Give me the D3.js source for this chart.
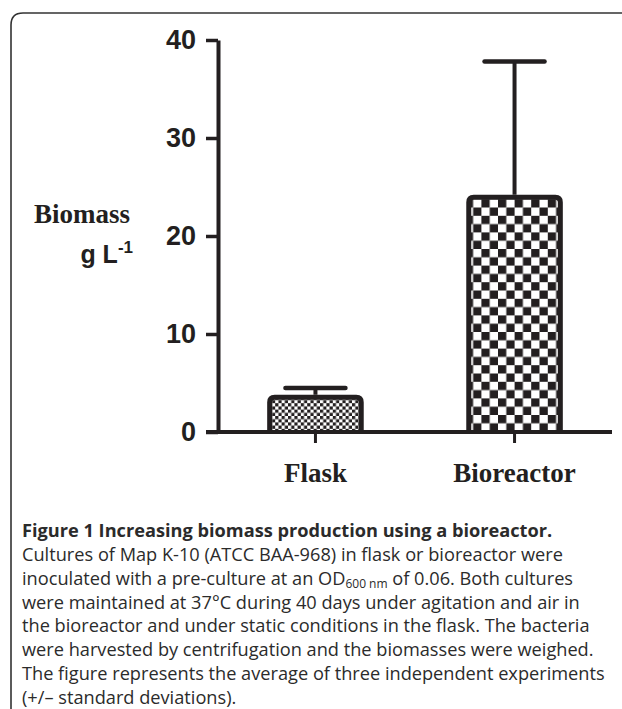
<!DOCTYPE html>
<html>
<head>
<meta charset="utf-8">
<script src="https://cdn.jsdelivr.net/npm/d3@7"></script>
<style>
  html, body { margin: 0; padding: 0; background: #fff; }
  svg { display: block; }
</style>
</head>
<body>
<svg id="chart" width="622" height="709"></svg>
<script>
// values
const categories = ["Flask", "Bioreactor"];
const means = [3.8, 24.2];
const upperErr = [4.5, 37.8];
const yTicks = [0, 10, 20, 30, 40];
const patterns = ["fine", "coarse"];
const captionTitle = "Figure 1 Increasing biomass production using a bioreactor.";
const captionLines = [
  "Cultures of Map K-10 (ATCC BAA-968) in flask or bioreactor were",
  "inoculated with a pre-culture at an OD|600 nm| of 0.06. Both cultures",
  "were maintained at 37°C during 40 days under agitation and air in",
  "the bioreactor and under static conditions in the flask. The bacteria",
  "were harvested by centrifugation and the biomasses were weighed.",
  "The figure represents the average of three independent experiments",
  "(+/– standard deviations)."
];

const ink = "#231f20";
const svg = d3.select("#chart");

// frame: top + left rule with rounded corner
svg.append("path")
  .attr("d", "M11,709 L11,25 Q11,13 23,13 L622,13")
  .attr("fill", "none").attr("stroke", "#333").attr("stroke-width", 1.6);

// checker patterns
const defs = svg.append("defs");
function checker(id, c) {
  const p = defs.append("pattern").attr("id", id)
    .attr("patternUnits", "userSpaceOnUse")
    .attr("width", c * 2).attr("height", c * 2);
  p.append("rect").attr("width", c * 2).attr("height", c * 2).attr("fill", "#fff");
  p.append("rect").attr("width", c).attr("height", c).attr("fill", ink);
  p.append("rect").attr("x", c).attr("y", c).attr("width", c).attr("height", c).attr("fill", ink);
}
checker("fine", 3.2);
checker("coarse", 8.3);

const x = d3.scaleBand().domain(categories).range([218, 612])
  .paddingInner(0.515).paddingOuter(0.247);
const y = d3.scaleLinear().domain([0, 40]).range([432, 40]);

const g = svg.append("g");

// bars with rounded top corners
const sw = 5, r = 5;
g.selectAll("path.bar").data(categories).enter().append("path")
  .attr("class", "bar")
  .attr("d", (d, i) => {
    const x0 = x(d) + sw / 2, x1 = x(d) + x.bandwidth() - sw / 2;
    const yt = y(means[i]) + sw / 2, yb = y(0);
    return `M${x0},${yb} L${x0},${yt + r} Q${x0},${yt} ${x0 + r},${yt} L${x1 - r},${yt} Q${x1},${yt} ${x1},${yt + r} L${x1},${yb}`;
  })
  .attr("fill", (d, i) => `url(#${patterns[i]})`)
  .attr("stroke", ink).attr("stroke-width", sw).attr("stroke-linejoin", "round");

// error bars (upper only)
const capW = 60;
const eb = g.selectAll("g.err").data(categories).enter().append("g").attr("class", "err");
eb.append("line")
  .attr("x1", d => x(d) + x.bandwidth() / 2).attr("x2", d => x(d) + x.bandwidth() / 2)
  .attr("y1", (d, i) => y(means[i])).attr("y2", (d, i) => y(upperErr[i]))
  .attr("stroke", ink).attr("stroke-width", 4);
eb.append("line")
  .attr("x1", d => x(d) + x.bandwidth() / 2 - capW / 2).attr("x2", d => x(d) + x.bandwidth() / 2 + capW / 2)
  .attr("y1", (d, i) => y(upperErr[i])).attr("y2", (d, i) => y(upperErr[i]))
  .attr("stroke", ink).attr("stroke-width", 4.5).attr("stroke-linecap", "round");

// y axis
const yAxis = g.append("g").attr("transform", "translate(218,0)")
  .call(d3.axisLeft(y).tickValues(yTicks).tickSize(12).tickPadding(10).tickSizeOuter(0));
yAxis.select(".domain").attr("stroke", ink).attr("stroke-width", 4);
yAxis.selectAll(".tick line").attr("stroke", ink).attr("stroke-width", 3.5);
yAxis.selectAll(".tick text")
  .attr("fill", ink)
  .style("font-family", "'Liberation Sans', Arial, sans-serif")
  .style("font-weight", "bold").style("font-size", "27px");

// x axis
const xAxis = g.append("g").attr("transform", "translate(0,432)")
  .call(d3.axisBottom(x).tickSize(11).tickPadding(20).tickSizeOuter(0));
xAxis.select(".domain").attr("d", "M206,0H612").attr("stroke", ink).attr("stroke-width", 4);
xAxis.selectAll(".tick line").attr("stroke", ink).attr("stroke-width", 3);
xAxis.selectAll(".tick text")
  .attr("fill", ink)
  .style("font-family", "'Liberation Serif', 'Times New Roman', serif")
  .style("font-weight", "bold").style("font-size", "27px");

// y axis title
g.append("text").attr("x", 130).attr("y", 223).attr("text-anchor", "end")
  .attr("fill", ink)
  .style("font-family", "'Liberation Serif', 'Times New Roman', serif")
  .style("font-weight", "bold").style("font-size", "27px")
  .text("Biomass");
const unit = g.append("text").attr("x", 133).attr("y", 263).attr("text-anchor", "end")
  .attr("fill", ink)
  .style("font-family", "'Liberation Sans', Arial, sans-serif")
  .style("font-weight", "bold").style("font-size", "25px");
unit.append("tspan").text("g L");
unit.append("tspan").attr("dy", -10).style("font-size", "17px").text("-1");

// caption
const cap = svg.append("g").attr("fill", "#2b2b2b")
  .style("font-family", "'Open Sans', 'Noto Sans', sans-serif");
cap.append("text").attr("x", 22).attr("y", 537)
  .style("font-weight", "bold").style("font-size", "18.2px")
  .text(captionTitle);
captionLines.forEach((line, i) => {
  const t = cap.append("text").attr("x", 22).attr("y", 561 + i * 23.8)
    .style("font-size", "18.2px");
  const parts = line.split("|");
  parts.forEach((p, k) => {
    const s = t.append("tspan").text(p);
    if (k === 1) s.attr("baseline-shift", "-3").style("font-size", "12px");
  });
});
</script>
</body>
</html>
